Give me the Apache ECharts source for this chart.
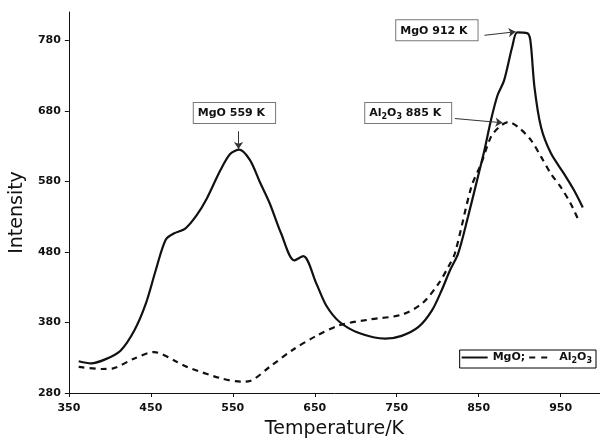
<!DOCTYPE html>
<html>
<head>
<meta charset="utf-8">
<script src="https://cdn.jsdelivr.net/npm/echarts@6/dist/echarts.min.js"></script>
<style>
  html, body { margin: 0; padding: 0; background: #fff; }
  #main { width: 600px; height: 444px; }
</style>
</head>
<body>
<div id="main"></div>
<script>
// TPD curves
const mgoTemp = [362, 377, 395, 413, 430, 444, 456, 468, 478, 492, 506, 518, 535, 547, 558, 571, 583, 595,
  609, 625, 636, 652, 664, 680, 704, 736, 756, 777, 793, 805, 815, 825, 837, 849, 857, 865, 873, 881,
  891, 897, 909, 913, 918, 926, 938, 954, 966, 977];
const mgoVal = [325, 322, 328, 340, 369, 407, 454, 497, 506, 513, 532, 555, 596, 619, 625, 610, 579, 549,
  506, 468, 474, 435, 404, 381, 365, 357, 361, 374, 397, 426, 454, 478, 530, 586, 624, 667, 702, 723,
  771, 791, 790, 780, 714, 657, 620, 591, 568, 543];

const alTemp = [362, 390, 404, 430, 454, 482, 494, 535, 561, 571, 595, 623, 652, 680, 716, 756, 781, 801,
  813, 821, 841, 853, 865, 875, 886, 900, 914, 926, 938, 950, 962, 971];
const alVal = [317, 314, 315, 329, 338, 324, 317, 301, 296, 297, 317, 341, 361, 376, 384, 391, 407, 435,
  459, 478, 572, 605, 643, 657, 664, 655, 638, 615, 591, 572, 549, 527];

const xTicks = [350, 450, 550, 650, 750, 850, 950];
const yTicks = [280, 380, 480, 580, 680, 780];

// peak annotations: label box centre and arrow from -> to
const mgoNotes = [
  { text: '{b|MgO 559 K}', at: [552, 677], from: [557, 651], to: [557, 626] },
  { text: '{b|MgO 912 K}', at: [799, 794], from: [857, 787], to: [895, 792] }
];
const alNotes = [
  { text: '{b|Al}{s|2}{b|O}{s|3}{b| 885 K}', at: [764, 677], from: [821, 669], to: [879, 663] }
];

const zip = (xs, ys) => xs.map((x, i) => [x, ys[i]]);

const richText = {
  b: { fontFamily: 'DejaVu Sans', fontWeight: 'bold', fontSize: 11, color: '#111', lineHeight: 15 },
  s: { fontFamily: 'DejaVu Sans', fontWeight: 'bold', fontSize: 8, color: '#111', lineHeight: 15, verticalAlign: 'bottom', padding: [4, 0, 0, 0] }
};

function notePoints(notes) {
  return {
    symbol: 'rect',
    symbolSize: 1,
    silent: true,
    itemStyle: { color: 'rgba(0,0,0,0)' },
    label: {
      show: true,
      position: 'inside',
      backgroundColor: '#fff',
      borderColor: '#777',
      borderWidth: 1,
      padding: [3, 10, 2, 4],
      rich: richText
    },
    data: notes.map(n => ({ coord: n.at, label: { formatter: n.text } }))
  };
}

function noteArrows(notes) {
  return {
    silent: true,
    symbol: ['none', 'arrow'],
    symbolSize: 7,
    label: { show: false },
    lineStyle: { color: '#333', width: 1, type: 'solid' },
    emphasis: { disabled: true },
    data: notes.map(n => [{ coord: n.from }, { coord: n.to }])
  };
}

const chart = echarts.init(document.getElementById('main'));

const axisFont = { fontFamily: 'DejaVu Sans', fontWeight: 'bold', fontSize: 11, color: '#111' };

chart.setOption({
  animation: false,
  backgroundColor: '#fff',
  grid: { left: 64, right: 0, top: 12, bottom: 51 },
  legend: {
    right: 4,
    top: 350,
    orient: 'horizontal',
    itemWidth: 26,
    itemHeight: 2,
    itemGap: 4,
    padding: [2, 4, 3, 2],
    borderColor: '#000',
    borderWidth: 1,
    itemStyle: { color: '#111' },
    data: [
      { name: 'MgO', icon: 'path://M0 0H26V2H0Z' },
      { name: 'Al2O3', icon: 'path://M2 0H8V2H2Z M14 0H20V2H14Z M26 0H26.01V2H26Z' }
    ],
    formatter: name => name === 'MgO' ? '{b|MgO;}' : '{b|Al}{s|2}{b|O}{s|3}',
    textStyle: { rich: richText, padding: [0, 0, 0, 0] }
  },
  xAxis: {
    type: 'value',
    min: 350,
    max: 998,
    name: 'Temperature/K',
    nameLocation: 'middle',
    nameGap: 27,
    nameTextStyle: { fontFamily: 'DejaVu Sans', fontSize: 19, color: '#111' },
    axisLine: { lineStyle: { color: '#111', width: 1 } },
    axisTick: { length: 4, lineStyle: { color: '#111' }, customValues: xTicks },
    axisLabel: Object.assign({ margin: 10, customValues: xTicks }, axisFont),
    splitLine: { show: false }
  },
  yAxis: {
    type: 'value',
    min: 280,
    max: 820,
    name: 'Intensity',
    nameLocation: 'middle',
    nameGap: 34,
    nameTextStyle: { fontFamily: 'DejaVu Sans', fontSize: 19, color: '#111', padding: [0, 20, 0, 0] },
    axisLine: { show: true, lineStyle: { color: '#111', width: 1 } },
    axisTick: { show: true, length: 4, lineStyle: { color: '#111' }, customValues: yTicks },
    axisLabel: Object.assign({ margin: 8, customValues: yTicks }, axisFont),
    splitLine: { show: false }
  },
  series: [
    {
      name: 'MgO',
      type: 'line',
      smooth: 0.3,
      symbol: 'none',
      lineStyle: { color: '#111', width: 2.2 },
      itemStyle: { color: '#111' },
      data: zip(mgoTemp, mgoVal),
      markPoint: notePoints(mgoNotes),
      markLine: noteArrows(mgoNotes)
    },
    {
      name: 'Al2O3',
      type: 'line',
      smooth: 0.3,
      symbol: 'none',
      lineStyle: { color: '#111', width: 2.2, type: [6, 5] },
      itemStyle: { color: '#111' },
      data: zip(alTemp, alVal),
      markPoint: notePoints(alNotes),
      markLine: noteArrows(alNotes)
    }
  ]
});
</script>
</body>
</html>
